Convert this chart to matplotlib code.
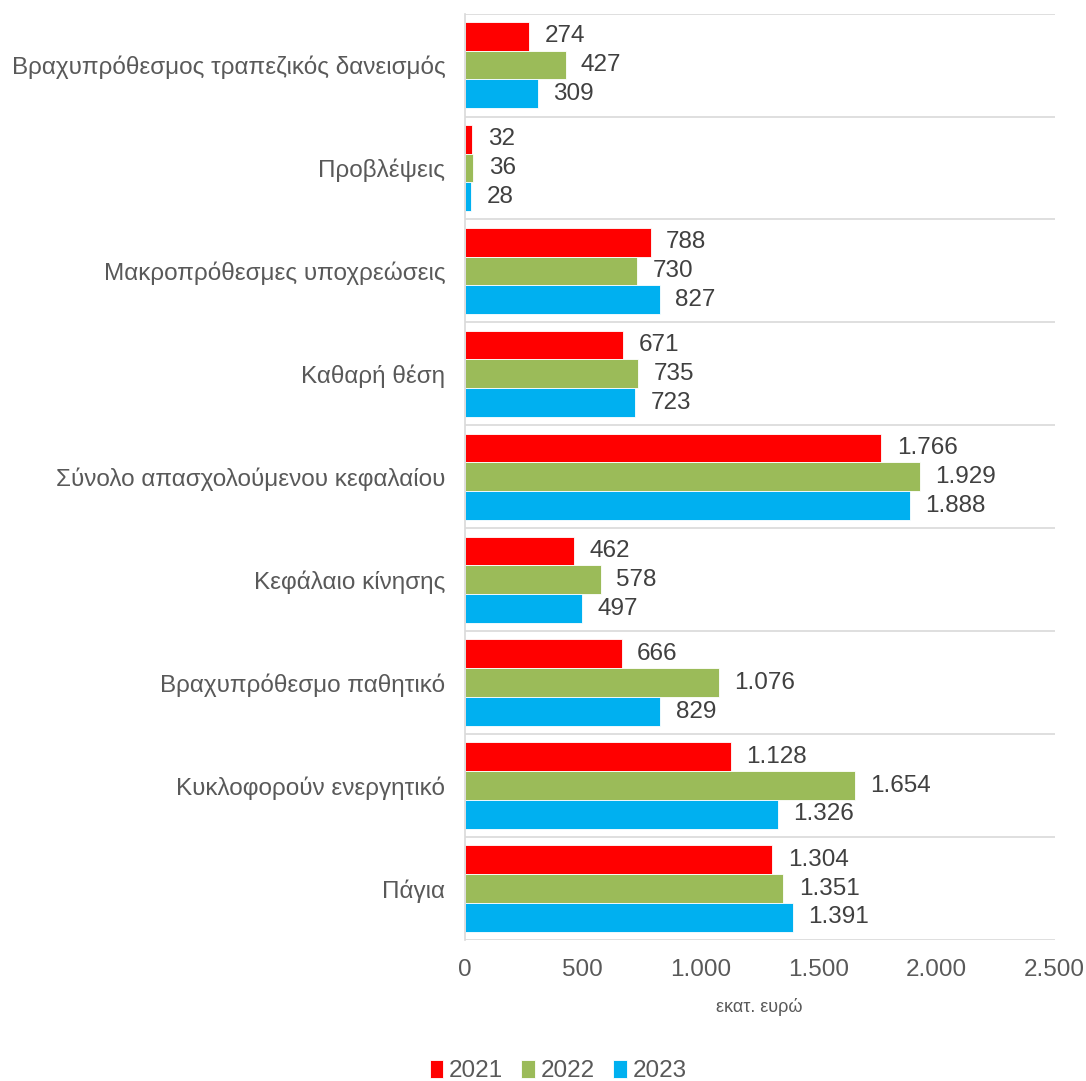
import numpy as np
import matplotlib
matplotlib.use("Agg")
import matplotlib.pyplot as plt
from matplotlib.ticker import FuncFormatter, MultipleLocator

categories = ["Βραχυπρόθεσμος τραπεζικός δανεισμός", "Προβλέψεις",
              "Μακροπρόθεσμες υποχρεώσεις", "Καθαρή θέση",
              "Σύνολο απασχολούμενου κεφαλαίου", "Κεφάλαιο κίνησης",
              "Βραχυπρόθεσμο παθητικό", "Κυκλοφορούν ενεργητικό", "Πάγια"]
years = ["2021", "2022", "2023"]
v2021 = [274, 32, 788, 671, 1766, 462, 666, 1128, 1304]
v2022 = [427, 36, 730, 735, 1929, 578, 1076, 1654, 1351]
v2023 = [309, 28, 827, 723, 1888, 497, 829, 1326, 1391]
colors = ["#FF0000", "#9BBB59", "#00B0F0"]

plt.rcParams['font.family'] = ['Liberation Sans', 'DejaVu Sans']

def fmt(v):
    return f"{v:,.0f}".replace(",", ".")

fig = plt.figure(figsize=(10.86, 10.81), dpi=100)
ax = fig.add_axes([0.428, 0.1304, 0.543, 0.857])

n = len(categories)
y = np.arange(n)[::-1]
h = 0.28
for i, (vals, c, yr) in enumerate(zip([v2021, v2022, v2023], colors, years)):
    pos = y + (1 - i) * h
    bars = ax.barh(pos, vals, height=h, color=c, label=yr, edgecolor="white", linewidth=0.6)
    for b, v in zip(bars, vals):
        ax.annotate(fmt(v), (v, b.get_y() + h / 2), xytext=(11, 0),
                    textcoords="offset points", va="center", ha="left",
                    fontsize=17.5, color="#404040")

ax.set_xlim(0, 2500)
ax.set_ylim(-0.5, n - 0.5)
ax.xaxis.set_major_locator(MultipleLocator(500))
ax.xaxis.set_major_formatter(FuncFormatter(lambda v, p: fmt(v)))
ax.set_yticks(y)
ax.set_yticklabels(categories)
ax.set_yticks(np.arange(n + 1) - 0.5, minor=True)
ax.grid(axis="y", which="minor", color="#D9D9D9", linewidth=1.2)
ax.tick_params(axis="both", which="both", length=0, labelsize=17.5, labelcolor="#595959")
ax.tick_params(axis="y", pad=14)
ax.tick_params(axis="x", pad=14)
for s in ["top", "right", "bottom"]:
    ax.spines[s].set_visible(False)
ax.spines["left"].set_color("#D9D9D9")
ax.spines["left"].set_linewidth(1.2)
ax.set_xlabel("εκατ. ευρώ", fontsize=13, color="#595959", labelpad=12)

fig.legend(loc="center", bbox_to_anchor=(0.514, 0.009), ncol=3, frameon=False,
           fontsize=17.5, labelcolor="#595959", handlelength=0.55, handleheight=0.75,
           handletextpad=0.25, columnspacing=0.75)

fig.savefig("out.png", dpi=100)
